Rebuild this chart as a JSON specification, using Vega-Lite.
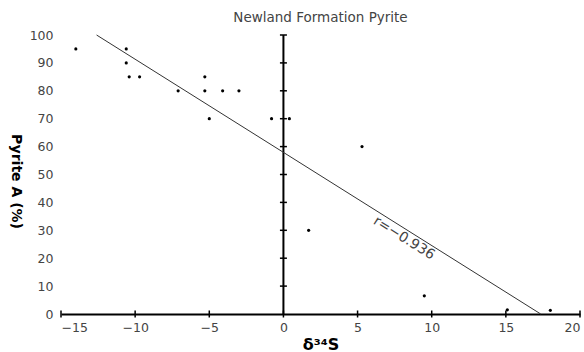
{
  "$schema": "https://vega.github.io/schema/vega-lite/v6.json",
  "width": 519,
  "height": 279,
  "autosize": {"type": "none"},
  "padding": {"left": 61, "top": 35, "right": 4, "bottom": 38},
  "background": "white",
  "config": {"view": {"stroke": null}, "font": "DejaVu Sans"},
  "title": {"text": "Newland Formation Pyrite", "fontSize": 13.5, "fontWeight": "normal", "color": "#444", "offset": 5, "anchor": "middle"},
  "datasets": {
    "samples": [
      {"x": -14.0, "y": 95}, {"x": -10.6, "y": 95}, {"x": -10.6, "y": 90},
      {"x": -10.4, "y": 85}, {"x": -9.7, "y": 85}, {"x": -7.1, "y": 80},
      {"x": -5.3, "y": 85}, {"x": -5.3, "y": 80}, {"x": -4.1, "y": 80},
      {"x": -3.0, "y": 80}, {"x": -5.0, "y": 70}, {"x": -0.8, "y": 70},
      {"x": 0.4, "y": 70}, {"x": 5.3, "y": 60}, {"x": 1.7, "y": 30},
      {"x": 9.5, "y": 6.5}, {"x": 15.1, "y": 1.5}, {"x": 18.0, "y": 1.3}
    ],
    "fit": [{"x": -12.6, "y": 100}, {"x": 17.35, "y": 0}],
    "yticks": [
      {"x": 0, "y": 10}, {"x": 0, "y": 20}, {"x": 0, "y": 30}, {"x": 0, "y": 40}, {"x": 0, "y": 50},
      {"x": 0, "y": 60}, {"x": 0, "y": 70}, {"x": 0, "y": 80}, {"x": 0, "y": 90}, {"x": 0, "y": 100}
    ],
    "xticks": [
      {"x": -15, "y": 0}, {"x": -10, "y": 0}, {"x": -5, "y": 0}, {"x": 0, "y": 0},
      {"x": 5, "y": 0}, {"x": 10, "y": 0}, {"x": 15, "y": 0}, {"x": 20, "y": 0}
    ],
    "axisline": [{"x": 0, "y": 0, "y2": 100}],
    "label": [{"x": 8.13, "y": 27.2, "text": "r=−0.936"}]
  },
  "encoding": {
    "x": {
      "field": "x", "type": "quantitative",
      "scale": {"domain": [-15, 20], "nice": false, "zero": false},
      "axis": {
        "title": "δ³⁴S", "values": [-15, -10, -5, 0, 5, 10, 15, 20],
        "ticks": false, "grid": false, "domainColor": "black", "domainWidth": 2,
        "labelFontSize": 12.5, "labelColor": "#444", "labelPadding": 7,
        "titleFontSize": 16, "titleFontWeight": "bold", "titleColor": "black",
        "titleY": 30, "titleBaseline": "middle"
      }
    },
    "y": {
      "field": "y", "type": "quantitative",
      "scale": {"domain": [0, 100], "nice": false},
      "axis": {
        "title": "Pyrite A (%)", "values": [0, 10, 20, 30, 40, 50, 60, 70, 80, 90, 100],
        "ticks": false, "domain": false, "grid": false,
        "labelFontSize": 12.5, "labelColor": "#444", "labelPadding": 8,
        "titleAngle": 90, "titleX": -46, "titleY": 146, "titleAlign": "center", "titleBaseline": "middle",
        "titleFontSize": 14, "titleFontWeight": "bold", "titleColor": "black"
      }
    }
  },
  "layer": [
    {
      "data": {"name": "axisline"},
      "mark": {"type": "rule", "color": "black", "strokeWidth": 2},
      "encoding": {"y2": {"field": "y2"}}
    },
    {
      "data": {"name": "yticks"},
      "mark": {"type": "tick", "orient": "horizontal", "size": 7, "thickness": 1.5, "color": "black", "opacity": 1}
    },
    {
      "data": {"name": "xticks"},
      "mark": {"type": "tick", "orient": "vertical", "size": 7, "thickness": 1.5, "color": "black", "opacity": 1}
    },
    {
      "data": {"name": "fit"},
      "mark": {"type": "line", "color": "#333", "strokeWidth": 1}
    },
    {
      "data": {"name": "samples"},
      "mark": {"type": "circle", "size": 10, "color": "black", "opacity": 1}
    },
    {
      "data": {"name": "label"},
      "mark": {"type": "text", "angle": 32, "fontSize": 14, "color": "#444", "align": "center", "baseline": "middle"},
      "encoding": {"text": {"field": "text"}}
    }
  ]
}
